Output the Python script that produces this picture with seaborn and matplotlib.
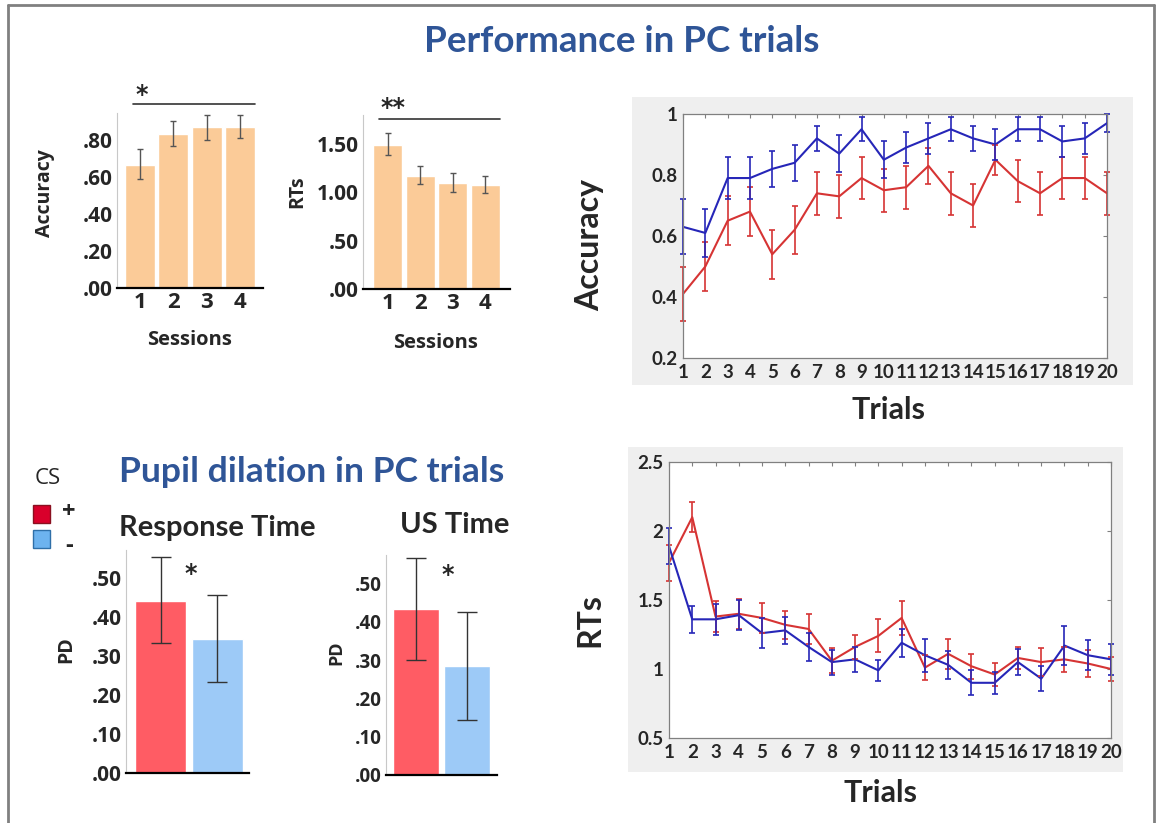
import numpy as np
import pandas as pd
import matplotlib
matplotlib.use("Agg")
import matplotlib.pyplot as plt
import seaborn as sns
from matplotlib.patches import Rectangle
from matplotlib.lines import Line2D

# ---------------- data ----------------
sessions = ["1", "2", "3", "4"]
acc_session = [0.665, 0.831, 0.867, 0.869]
acc_session_lo = [0.588, 0.764, 0.800, 0.807]
acc_session_hi = [0.750, 0.900, 0.935, 0.935]
rt_session = [1.49, 1.17, 1.10, 1.08]
rt_session_lo = [1.39, 1.09, 1.00, 0.99]
rt_session_hi = [1.61, 1.27, 1.20, 1.17]

cs_groups = ["+", "-"]
pd_response = [0.441, 0.344]
pd_response_lo = [0.332, 0.233]
pd_response_hi = [0.552, 0.457]
pd_us = [0.432, 0.285]
pd_us_lo = [0.300, 0.143]
pd_us_hi = [0.565, 0.425]

trials = list(range(1, 21))
acc_cs_minus = [0.63, 0.61, 0.79, 0.79, 0.82, 0.84, 0.92, 0.87, 0.95, 0.85,
                0.89, 0.92, 0.95, 0.92, 0.90, 0.95, 0.95, 0.91, 0.92, 0.97]
acc_cs_minus_err = [0.09, 0.08, 0.07, 0.07, 0.06, 0.06, 0.04, 0.06, 0.04, 0.06,
                    0.05, 0.05, 0.04, 0.04, 0.05, 0.04, 0.04, 0.05, 0.05, 0.03]
acc_cs_plus = [0.41, 0.50, 0.65, 0.68, 0.54, 0.62, 0.74, 0.73, 0.79, 0.75,
               0.76, 0.83, 0.74, 0.70, 0.85, 0.78, 0.74, 0.79, 0.79, 0.74]
acc_cs_plus_err = [0.09, 0.08, 0.08, 0.08, 0.08, 0.08, 0.07, 0.07, 0.07, 0.07,
                   0.07, 0.06, 0.07, 0.07, 0.05, 0.07, 0.07, 0.07, 0.07, 0.07]
rt_cs_plus = [1.77, 2.10, 1.38, 1.40, 1.37, 1.32, 1.29, 1.06, 1.16, 1.24,
              1.37, 1.01, 1.11, 1.02, 0.96, 1.08, 1.05, 1.07, 1.04, 1.00]
rt_cs_plus_err = [0.13, 0.11, 0.11, 0.11, 0.11, 0.10, 0.11, 0.09, 0.09, 0.12,
                  0.12, 0.09, 0.11, 0.09, 0.08, 0.08, 0.10, 0.09, 0.10, 0.09]
rt_cs_minus = [1.89, 1.36, 1.36, 1.39, 1.26, 1.28, 1.16, 1.05, 1.07, 0.99,
               1.19, 1.10, 1.03, 0.90, 0.90, 1.05, 0.93, 1.17, 1.10, 1.07]
rt_cs_minus_err = [0.13, 0.10, 0.11, 0.11, 0.11, 0.10, 0.10, 0.09, 0.09, 0.075,
                   0.10, 0.12, 0.10, 0.09, 0.08, 0.095, 0.09, 0.14, 0.11, 0.11]

acc_ticks = [0.2, 0.4, 0.6, 0.8, 1.0]
acc_ticklabels = ["0.2", "0.4", "0.6", "0.8", "1"]
rt_ticks = [0.5, 1.0, 1.5, 2.0, 2.5]
rt_ticklabels = ["0.5", "1", "1.5", "2", "2.5"]

# ---------------- style ----------------
sns.set_style("white")
plt.rcParams["font.family"] = ["Lato", "DejaVu Sans"]
SPSS_FONT = ["Open Sans", "DejaVu Sans"]
STAR_FONT = ["DejaVu Sans"]
TITLE_BLUE = "#2F5597"
PEACH = "#FBCB98"
BAR_RED = "#FF5C64"
BAR_BLUE = "#9DCAF7"
LINE_RED = "#D63434"
LINE_BLUE = "#2626B8"

W, H = 1160, 823
fig = plt.figure(figsize=(W / 100, H / 100), dpi=100)
fig.patch.set_facecolor("white")


def add_ax(l, t, r, b, **kw):
    return fig.add_axes([l / W, 1 - b / H, (r - l) / W, (b - t) / H], **kw)


def ftext(x, y, s, **kw):
    return fig.text(x / W, 1 - y / H, s, **kw)


def frect(l, t, r, b, **kw):
    rect = Rectangle((l / W, 1 - b / H), (r - l) / W, (b - t) / H,
                     transform=fig.transFigure, **kw)
    fig.add_artist(rect)
    return rect


def fline(x0, y0, x1, y1, **kw):
    fig.add_artist(Line2D([x0 / W, x1 / W], [1 - y0 / H, 1 - y1 / H],
                          transform=fig.transFigure, **kw))


# outer frame
fline(8, 5, 1154, 5, color="#808080", lw=2)
fline(8, 5, 8, 823, color="#808080", lw=2)
fline(1154, 5, 1154, 823, color="#808080", lw=2)


def spss_bar(ax, labels, vals, lo, hi, colors, ylim, yticks, yticklabels,
             xlim, width, capsize, ecolor, xticks=True, ysize=15):
    df = pd.DataFrame({"g": labels, "v": vals})
    sns.barplot(data=df, x="g", y="v", hue="g", palette=colors, errorbar=None,
                width=width, saturation=1, legend=False, ax=ax)
    x = np.arange(len(vals))
    ax.errorbar(x, vals, yerr=[np.subtract(vals, lo), np.subtract(hi, vals)],
                fmt="none", ecolor=ecolor, elinewidth=1, capsize=capsize,
                capthick=1)
    ax.set_ylim(*ylim)
    ax.set_xlim(*xlim)
    ax.set_yticks(yticks)
    ax.set_yticklabels(yticklabels, fontweight="bold", fontsize=ysize,
                       family=SPSS_FONT)
    if xticks:
        ax.set_xticks(x)
        ax.set_xticklabels(labels, fontweight="bold", fontsize=16,
                           family=SPSS_FONT)
    else:
        ax.set_xticks([])
    ax.set_xlabel("")
    ax.set_ylabel("")
    ax.tick_params(length=0, pad=3)
    for s in ["top", "right"]:
        ax.spines[s].set_visible(False)
    ax.spines["left"].set_color("#C8C8C8")
    ax.spines["left"].set_linewidth(0.8)
    ax.spines["bottom"].set_color("black")
    ax.spines["bottom"].set_linewidth(1.6)
    ax.set_facecolor("white")


# ---------------- title ----------------
ftext(622, 42, "Performance in PC trials", ha="center", va="center",
      fontsize=26.5, fontweight="bold", color=TITLE_BLUE)

# ---------------- session accuracy ----------------
ax1 = add_ax(117, 113, 263, 288)
spss_bar(ax1, sessions, acc_session, acc_session_lo, acc_session_hi,
         [PEACH] * 4, (0, 0.944), [0, 0.2, 0.4, 0.6, 0.8],
         [".00", ".20", ".40", ".60", ".80"], (-0.69, 3.69), 0.9, 2.5, "#555555")
fline(133, 104, 255, 104, color="#333333", lw=1.2)
ftext(142, 95, "*", ha="center", va="center", fontsize=17, fontweight="bold",
      family=STAR_FONT)
ftext(45, 193, "Accuracy", rotation=90, ha="center", va="center", fontsize=14,
      fontweight="bold", family=SPSS_FONT)
ftext(190, 340, "Sessions", ha="center", va="center", fontsize=14.5,
      fontweight="bold", family=SPSS_FONT)

# ---------------- session RT ----------------
ax2 = add_ax(363, 115, 510, 289)
spss_bar(ax2, sessions, rt_session, rt_session_lo, rt_session_hi,
         [PEACH] * 4, (0, 1.80), [0, 0.5, 1.0, 1.5],
         [".00", ".50", "1.00", "1.50"], (-0.76, 3.76), 0.9, 2.5, "#555555")
fline(379, 119, 500, 119, color="#333333", lw=1.2)
ftext(393, 108, "**", ha="center", va="center", fontsize=17, fontweight="bold",
      family=STAR_FONT)
ftext(297, 192, "RTs", rotation=90, ha="center", va="center", fontsize=14,
      fontweight="bold", family=SPSS_FONT)
ftext(436, 343, "Sessions", ha="center", va="center", fontsize=14.5,
      fontweight="bold", family=SPSS_FONT)

# ---------------- pupil dilation ----------------
ftext(312, 472, "Pupil dilation in PC trials", ha="center", va="center",
      fontsize=25.5, fontweight="bold", color=TITLE_BLUE)
ftext(48, 478, "CS", ha="center", va="center", fontsize=16, family=SPSS_FONT)
frect(33, 505, 50, 523, facecolor="#D9002B", edgecolor="#8A1020", lw=1)
frect(33, 530, 50, 548, facecolor="#6DB3EF", edgecolor="#2F6FA8", lw=1)
ftext(69, 512, "+", ha="center", va="center", fontsize=17, fontweight="bold",
      family=SPSS_FONT)
ftext(69, 546, "-", ha="center", va="center", fontsize=17, fontweight="bold",
      family=SPSS_FONT)

ftext(217, 528, "Response Time", ha="center", va="center", fontsize=21,
      fontweight="bold")
ax3 = add_ax(126, 550, 249, 773)
spss_bar(ax3, cs_groups, pd_response, pd_response_lo, pd_response_hi,
         [BAR_RED, BAR_BLUE], (0, 0.571), [0, 0.1, 0.2, 0.3, 0.4, 0.5],
         [".00", ".10", ".20", ".30", ".40", ".50"], (-0.614, 1.56), 0.91, 7,
         "#333333", xticks=False, ysize=15)
ftext(191, 574, "*", ha="center", va="center", fontsize=17, fontweight="bold",
      family=STAR_FONT)
ftext(66, 650, "PD", rotation=90, ha="center", va="center", fontsize=14,
      fontweight="bold", family=SPSS_FONT)

ftext(455, 525, "US Time", ha="center", va="center", fontsize=21,
      fontweight="bold")
ax4 = add_ax(386, 555, 497, 775)
spss_bar(ax4, cs_groups, pd_us, pd_us_lo, pd_us_hi,
         [BAR_RED, BAR_BLUE], (0, 0.574), [0, 0.1, 0.2, 0.3, 0.4, 0.5],
         [".00", ".10", ".20", ".30", ".40", ".50"], (-0.587, 1.587), 0.9, 7,
         "#333333", xticks=False, ysize=13.5)
ftext(448, 575, "*", ha="center", va="center", fontsize=17, fontweight="bold",
      family=STAR_FONT)
ftext(336, 653, "PD", rotation=90, ha="center", va="center", fontsize=13,
      fontweight="bold", family=SPSS_FONT)


# ---------------- trial-wise line charts ----------------
def matlab_lines(ax, plus, plus_err, minus, minus_err, ylim, yticks, yticklabels):
    df = pd.DataFrame({"Trial": trials * 2,
                       "val": list(plus) + list(minus),
                       "CS": ["+"] * len(trials) + ["-"] * len(trials)})
    sns.lineplot(data=df, x="Trial", y="val", hue="CS",
                 palette={"+": LINE_RED, "-": LINE_BLUE}, legend=False,
                 linewidth=1.5, ax=ax)
    for vals, err, col in [(plus, plus_err, LINE_RED), (minus, minus_err, LINE_BLUE)]:
        cont = ax.errorbar(trials, vals, yerr=err, fmt="none", ecolor=col,
                           elinewidth=1.2, capsize=2.2, capthick=1.2)
        for art in cont.get_children():
            art.set_clip_on(False)
    ax.set_xlim(1, 20)
    ax.set_ylim(*ylim)
    ax.set_xticks(trials)
    ax.set_xticklabels([str(t) for t in trials], fontweight="bold", fontsize=13.5)
    ax.set_yticks(yticks)
    ax.set_yticklabels(yticklabels, fontweight="bold", fontsize=13.5)
    ax.set_xlabel("")
    ax.set_ylabel("")
    ax.tick_params(direction="in", length=3, width=0.8, color="#808080",
                   top=True, right=True, pad=4)
    for s in ax.spines.values():
        s.set_color("#808080")
        s.set_linewidth(0.9)
        s.set_visible(True)
    ax.set_facecolor("white")


frect(632, 97, 1133, 385, facecolor="#EFEFEF", edgecolor="none", zorder=-1)
ax5 = add_ax(683, 114, 1107, 358)
matlab_lines(ax5, acc_cs_plus, acc_cs_plus_err, acc_cs_minus, acc_cs_minus_err,
             (0.2, 1.0), acc_ticks, acc_ticklabels)
ftext(590, 245, "Accuracy", rotation=90, ha="center", va="center",
      fontsize=23, fontweight="bold")
ftext(888, 410, "Trials", ha="center", va="center", fontsize=22,
      fontweight="bold")

frect(628, 447, 1123, 772, facecolor="#EFEFEF", edgecolor="none", zorder=-1)
ax6 = add_ax(669, 462, 1111, 738)
matlab_lines(ax6, rt_cs_plus, rt_cs_plus_err, rt_cs_minus, rt_cs_minus_err,
             (0.5, 2.5), rt_ticks, rt_ticklabels)
ftext(590, 620, "RTs", rotation=90, ha="center", va="center",
      fontsize=23, fontweight="bold")
ftext(880, 793, "Trials", ha="center", va="center", fontsize=22,
      fontweight="bold")

fig.savefig("out.png", dpi=100, facecolor="white")
